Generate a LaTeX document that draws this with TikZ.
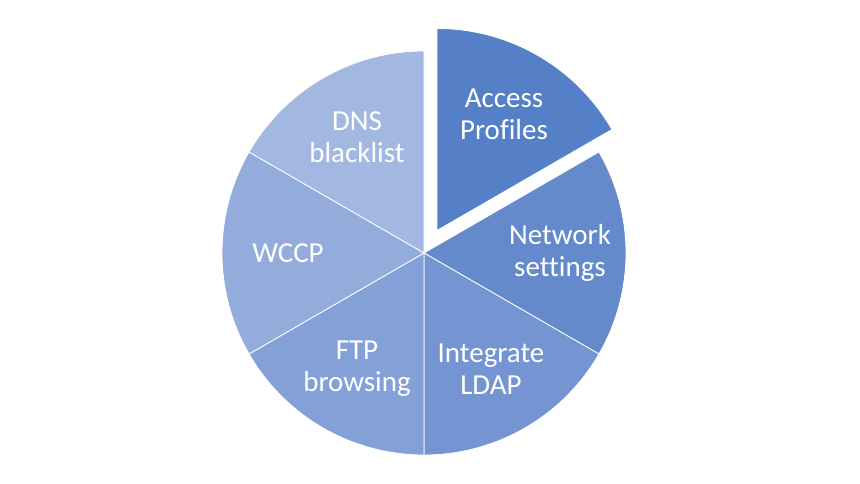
\documentclass[tikz,border=0pt]{standalone}
\usepackage{fontspec}
\setmainfont{Carlito}[Ligatures=NoCommon]
\usepackage{xcolor}
\definecolor{access}{HTML}{557FC7}
\definecolor{network}{HTML}{648ACC}
\definecolor{ldap}{HTML}{7495D1}
\definecolor{ftp}{HTML}{84A1D7}
\definecolor{wccp}{HTML}{93ACDC}
\definecolor{dns}{HTML}{A2B8E1}
\usetikzlibrary{calc}
\tikzset{%
    slice/.style={draw=white, line width=0.8pt},
    slicetext/.style={text=white, align=center, font=\fontsize{29}{32}\selectfont}
}

\begin{document}
\begin{tikzpicture}[x=1pt,y=1pt]
    \useasboundingbox (0,0) rectangle (860,484);
    \coordinate (o) at (424,231);
    \coordinate (oa) at ($(o)+(60:26)$);
    \draw[slice,fill=access](oa)--++(90:202) arc[start angle=90,end angle=30,radius=202]--cycle;
    \draw[slice,fill=network](o)--++(30:202) arc[start angle=30,end angle=-30,radius=202]--cycle;
    \draw[slice,fill=ldap](o)--++(-30:202) arc[start angle=-30,end angle=-90,radius=202]--cycle;
    \draw[slice,fill=ftp](o)--++(-90:202) arc[start angle=-90,end angle=-150,radius=202]--cycle;
    \draw[slice,fill=wccp](o)--++(-150:202) arc[start angle=-150,end angle=-210,radius=202]--cycle;
    \draw[slice,fill=dns](o)--++(150:202) arc[start angle=150,end angle=90,radius=202]--cycle;
    \node[slicetext] (access) at ($(oa)+(60:134)$) {Access\\Profiles};
    \node[slicetext] (network) at ($(o)+(0:136)$) {Network\\settings};
    \node[slicetext] (ldap) at ($(o)+(-60:134)$) {Integrate\\LDAP};
    \node[slicetext] (ftp) at ($(o)+(-120:134)$) {FTP\\browsing};
    \node[slicetext] (wccp) at ($(o)+(180:136)$) {WCCP};
    \node[slicetext] (dns) at ($(o)+(120:134)$) {DNS\\blacklist};
  \end{tikzpicture}
\end{document}
